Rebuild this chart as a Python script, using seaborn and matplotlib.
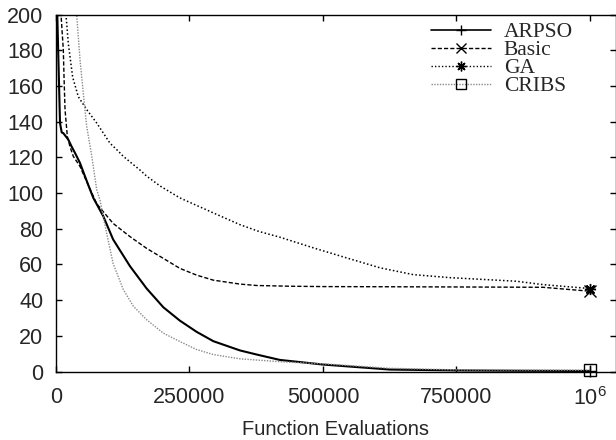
import numpy as np
import pandas as pd
import matplotlib
matplotlib.use("Agg")
import matplotlib.pyplot as plt
from matplotlib.lines import Line2D
import seaborn as sns

# ---- data ----
arpso_x = [0, 2400, 7500, 10700, 13700, 23000, 29400, 35600, 44900, 54300, 63700, 69900,
           88600, 107000, 138600, 169800, 201000, 232000, 263500, 294600, 344600, 376000,
           419000, 500000, 625000, 750000, 875000, 1000000]
arpso_y = [240, 200, 139.3, 134, 133.6, 130, 126, 122.5, 116.9, 109.4, 102, 97.3,
           87, 74, 59, 46.5, 36, 28.5, 22.2, 17, 11.8, 9.5,
           6.5, 3.9, 1.1, 0.6, 0.4, 0.3]

basic_x = [0, 9400, 13700, 15000, 16900, 21200, 26200, 32400, 44900, 54300, 69900, 76200,
           107000, 138600, 169800, 201000, 232000, 263500, 294600, 344600, 376000, 438000,
           500000, 625000, 738000, 912000, 1000000]
basic_y = [260, 200, 180.4, 165.4, 146.8, 131.8, 126, 120.6, 115, 108.5, 98.2, 94,
           83, 75.6, 69, 63.4, 57.8, 54, 51.2, 49, 48.2, 47.8,
           47.6, 47.5, 47.4, 47.2, 45.0]

ga_x = [0, 18700, 23000, 31200, 41800, 57500, 76200, 101000, 116700, 126000, 157000,
        169800, 194800, 232000, 294600, 344600, 380000, 419000, 482000, 544000, 607000,
        669000, 738000, 862000, 912000, 1000000]
ga_y = [260, 200, 184, 165, 154, 146.8, 139.3, 128, 123.5, 120.6, 113,
        109.5, 104, 97.3, 88.9, 82.3, 78.5, 75.3, 69.3, 63.7, 58.1,
        54.3, 52.6, 50.6, 48.7, 46.5]

cribs_x = [0, 20000, 38700, 44900, 51100, 57500, 66800, 76200, 82400, 94900, 107000,
           126000, 144800, 169800, 201000, 232000, 263500, 294600, 344600, 419000, 500000,
           625000, 750000, 1000000]
cribs_y = [600, 320, 200, 175, 156, 137.4, 121, 102, 96, 77.4, 60.5,
           46, 36.6, 29, 21.5, 16.8, 12.3, 9.5, 7.1, 5.5, 4.3,
           1.8, 0.9, 0.7]

series_names = ["ARPSO", "Basic", "GA", "CRIBS"]
x_ticks = [0, 250000, 500000, 750000, 1000000]
x_tick_labels = ["0", "250000", "500000", "750000", r"$\mathregular{10^6}$"]
y_ticks = [0, 20, 40, 60, 80, 100, 120, 140, 160, 180, 200]

frames = []
for name, xs, ys in zip(series_names, [arpso_x, basic_x, ga_x, cribs_x],
                        [arpso_y, basic_y, ga_y, cribs_y]):
    frames.append(pd.DataFrame({"evals": xs, "value": ys, "algo": name}))
df = pd.concat(frames, ignore_index=True)

sns.set_style("white")
plt.rcParams["font.family"] = ["Liberation Sans", "DejaVu Sans"]

styles = {
    "ARPSO": dict(color="black", lw=1.5, ls="-", marker="+", ms=8),
    "Basic": dict(color="black", lw=1.0, ls=(0, (3, 1.5)), marker="x", ms=8),
    "GA": dict(color="black", lw=1.1, ls=(0, (1, 1.5)), marker=(8, 2, 0), ms=8),
    "CRIBS": dict(color="#8a8a8a", lw=1.0, ls=(0, (1, 1)), marker="s", ms=8),
}

fig = plt.figure(figsize=(6.16, 4.40), dpi=100)
ax = fig.add_axes([56 / 616, 1 - 371.5 / 440, (616 - 56) / 616, (371.5 - 14.7) / 440])

handles = []
for name in series_names:
    st = styles[name]
    sub = df[df["algo"] == name]
    sns.lineplot(data=sub, x="evals", y="value", ax=ax, color=st["color"],
                 linewidth=st["lw"], linestyle=st["ls"], legend=False,
                 estimator=None, sort=False)
    last = sub.iloc[-1]
    ax.plot([last["evals"]], [last["value"]], linestyle="none", marker=st["marker"],
            markersize=st["ms"], markeredgecolor="black", markerfacecolor="none",
            markeredgewidth=1.0, clip_on=False, zorder=5)
    handles.append(Line2D([0], [0], color=st["color"], lw=1.0 if name != "ARPSO" else 1.2,
                          ls=st["ls"], marker=st["marker"], markersize=st["ms"] - 1,
                          markeredgecolor="black", markerfacecolor="none",
                          markeredgewidth=1.0))

ax.set_xlim(0, 1.0487e6)
ax.set_ylim(0, 200)
ax.set_xticks(x_ticks)
ax.set_xticklabels(x_tick_labels)
ax.set_yticks(y_ticks)
ax.set_xlabel("Function Evaluations", fontsize=14.5, labelpad=7.5)
ax.set_ylabel("")

ax.tick_params(axis="both", which="major", direction="in", length=4.5, width=1,
               color="black", labelsize=15.5, top=True, right=True,
               bottom=True, left=True)
ax.tick_params(axis="x", pad=11)
ax.tick_params(axis="y", pad=9)
for sp in ax.spines.values():
    sp.set_visible(True)
    sp.set_color("black")
    sp.set_linewidth(1.0)

leg = ax.legend(handles, series_names, loc="upper right",
                bbox_to_anchor=(573 / 616, 1 - 22 / 440),
                bbox_transform=fig.transFigure, frameon=False,
                prop={"family": "Liberation Serif", "size": 15.5},
                handlelength=2.8, handletextpad=0.6, labelspacing=-0.09,
                borderpad=0, borderaxespad=0, numpoints=1)

fig.savefig("out.png", dpi=100)
